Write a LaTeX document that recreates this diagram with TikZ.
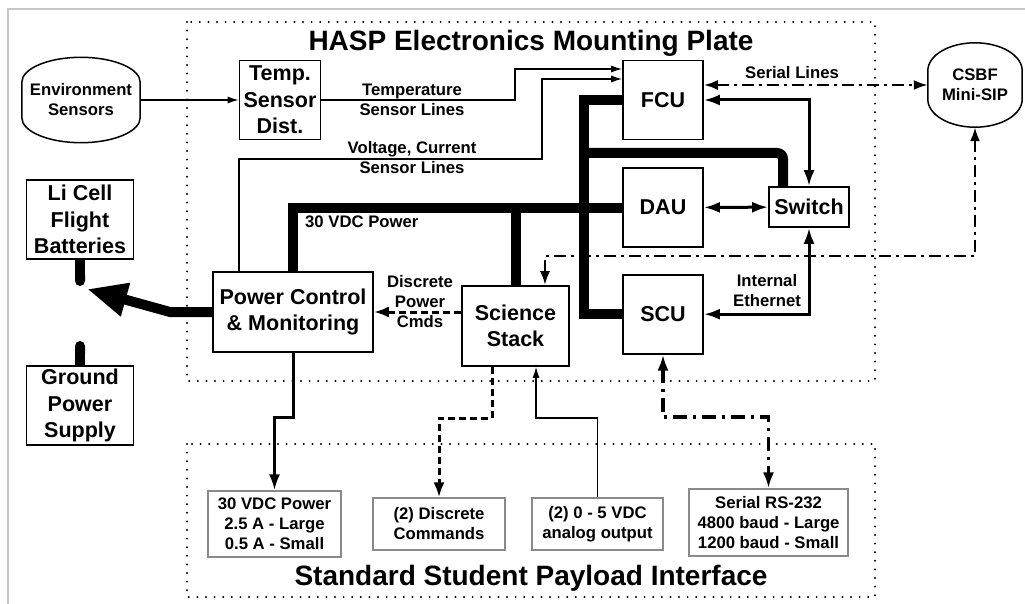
\documentclass[tikz,border=0pt]{standalone}
\usepackage{fontspec}
\setmainfont{Liberation Sans}
\usetikzlibrary{arrows.meta,positioning,calc}
\definecolor{FrameGray}{HTML}{C6C6C6}
\definecolor{BoxGray}{HTML}{8A8A8A}
\newcommand{\unitfont}{\fontsize{21.5pt}{26.5pt}\selectfont\bfseries}
\newcommand{\lblfont}{\fontsize{16.7pt}{20pt}\selectfont\bfseries}
\newcommand{\platefont}{\fontsize{28pt}{33pt}\selectfont\bfseries}
\newcommand{\drum}[2]{%
  \path ($(#1.north west)+(0,#2)$) coordinate (#1-nw)
        ($(#1.north east)+(0,#2)$) coordinate (#1-ne)
        ($(#1.south east)+(0,-#2)$) coordinate (#1-se)
        ($(#1.south west)+(0,-#2)$) coordinate (#1-sw);
  \draw[outline] (#1-nw)
    .. controls ($(#1-nw)!.552!(#1.north west)$) and ($(#1.north)!.552!(#1.north west)$) .. (#1.north)
    .. controls ($(#1.north)!.552!(#1.north east)$) and ($(#1-ne)!.552!(#1.north east)$) .. (#1-ne)
    -- (#1-se)
    .. controls ($(#1-se)!.552!(#1.south east)$) and ($(#1.south)!.552!(#1.south east)$) .. (#1.south)
    .. controls ($(#1.south)!.552!(#1.south west)$) and ($(#1-sw)!.552!(#1.south west)$) .. (#1-sw)
    -- cycle;}
\tikzset{
  unit/.style={draw, line width=1.6pt, fill=white, inner sep=0pt, align=center, font=\unitfont},
  drumnode/.style={inner sep=0pt, align=center, font=\lblfont},
  outline/.style={line width=1.5pt},
  iface/.style={draw=BoxGray, line width=1.2pt, inner sep=0pt, align=center, font=\lblfont},
  lbl/.style={inner sep=0pt, align=center, font=\lblfont},
  plate/.style={line width=2.2pt, dash pattern=on 0pt off 8.6pt, line cap=round},
  platetitle/.style={inner sep=0pt, anchor=base, font=\platefont},
  wire/.style={line width=1.3pt, -{Latex[length=11pt,width=7pt]}},
  link/.style={line width=3pt, >={Latex[length=16pt,width=11pt]}},
  bus/.style={line width=10pt},
  cmdline/.style={line width=3pt, dash pattern=on 7pt off 4pt, >={Latex[length=15pt,width=11pt]}},
  serial/.style={line width=2.5pt, dash pattern=on 12pt off 5pt on 3pt off 5pt, >={Latex[length=14pt,width=10pt]}},
  serialthick/.style={line width=3.5pt, dash pattern=on 14pt off 6pt on 3pt off 6pt, >={Latex[length=16pt,width=11pt]}}
}
\begin{document}
\begin{tikzpicture}[x=1pt, y=-1pt]
\useasboundingbox (0,0) rectangle (1025,604);
\draw[FrameGray, line width=2pt] (8,604) -- (8,9) -- (1025,9);
\draw[plate] (187,22) rectangle (875,381);
\draw[plate] (187,444) rectangle (875,597);
\node[platetitle] (hasp) at (531,51) {HASP Electronics Mounting Plate};
\node[platetitle] (sspi) at (531,585) {Standard Student Payload Interface};

\node[drumnode, minimum width=118pt, minimum height=85pt] (env) at (81,100) {Environment\\Sensors};
\drum{env}{25}
\node[drumnode, minimum width=94pt, minimum height=84pt] (csbf) at (975,85) {CSBF\\Mini-SIP};
\drum{csbf}{28}
\node[unit, minimum width=81pt, minimum height=79pt] (tsd) at (280,100) {Temp.\\Sensor\\Dist.};
\node[unit, minimum width=107pt, minimum height=79pt] (bat) at (80,219.5) {Li Cell\\Flight\\Batteries};
\node[unit, minimum width=107pt, minimum height=79pt] (gps) at (80,405.5) {Ground\\Power\\Supply};
\node[unit, minimum width=160pt, minimum height=80pt] (pcm) at (293,312) {Power Control\\\& Monitoring};
\node[unit, minimum width=107pt, minimum height=80pt] (sci) at (515.5,326) {Science\\Stack};
\node[unit, minimum width=80pt, minimum height=79pt] (fcu) at (663,100) {FCU};
\node[unit, minimum width=80pt, minimum height=79pt, below=27pt of fcu] (dau) {DAU};
\node[unit, minimum width=80pt, minimum height=79pt, below=26pt of dau] (scu) {SCU};
\node[unit, minimum width=80pt, minimum height=40pt] (sw) at (809,207) {Switch};

\node[iface, minimum width=133pt, minimum height=66pt] (pwr) at (274.5,524) {30 VDC Power\\2.5 A - Large\\0.5 A - Small};
\node[iface, minimum width=132pt, minimum height=52pt] (cmd) at (439,524) {(2) Discrete\\Commands};
\node[iface, minimum width=131pt, minimum height=52pt] (ana) at (597.5,524) {(2) 0 - 5 VDC\\analog output};
\node[iface, minimum width=159pt, minimum height=67pt] (ser) at (768.5,522.5) {Serial RS-232\\4800 baud - Large\\1200 baud - Small};

\draw[wire] (env) -- (tsd);
\draw[wire] (tsd) -- (515,100) |- (fcu.west |- 0,69);
\node[lbl] (tlbl) at (412,100) {Temperature\\Sensor Lines};
\draw[wire] (pcm.north -| 239,0) |- (542,159) |- (fcu.west |- 0,79);
\node[lbl] (vlbl) at (412,158) {Voltage, Current\\Sensor Lines};

\draw[bus] (pcm.north) |- (dau.west);
\draw[bus] (sci.north -| 516,0) -- (516,207);
\draw[bus] (fcu.west) -| (584,200) |- (scu.west);
\draw[bus, rounded corners=6pt] (584,153) -| (sw.north -| 783,0);
\node[lbl, anchor=west] (vdc) at (305,222) {30 VDC Power};

\draw[link, <->] (fcu.east) -| (sw.north);
\draw[link, <->] (dau) -- (sw);
\draw[link, <->] (sw.south) |- (scu.east);
\node[lbl] (eth) at (767,291) {Internal\\Ethernet};

\draw[serial, <->] (fcu.east |- csbf.west) -- (csbf.west);
\node[lbl] (slbl) at (792,73) {Serial Lines};
\draw[serial, <->] (csbf.south) |- (545,256) -- (sci.north -| 545,0);

\draw[cmdline, ->] (sci.west |- pcm.east) -- (pcm.east);
\node[lbl] (dpc) at (420,302) {Discrete\\Power\\Cmds};

\draw[link, ->] (pcm.south) -- (293,417) -| (pwr.north);
\draw[cmdline, ->] (sci.south -| 492,0) -- (492,418) -| (cmd.north);
\draw[wire] (ana.north) |- (536,418) -- (sci.south -| 536,0);
\draw[serialthick, <->] (scu.south) |- (ser.north |- 0,417) -- (ser.north);

\coordinate (batend) at (80,286);
\coordinate (gndend) at (80,341);
\draw[bus, -{Round Cap}] (bat) -- (batend);
\draw[bus, -{Round Cap}] (gps) -- (gndend);
\draw[bus, -{Triangle[length=40pt,width=32pt]}] (pcm.west) -- (170,312) -- (87,289);
\end{tikzpicture}
\end{document}
